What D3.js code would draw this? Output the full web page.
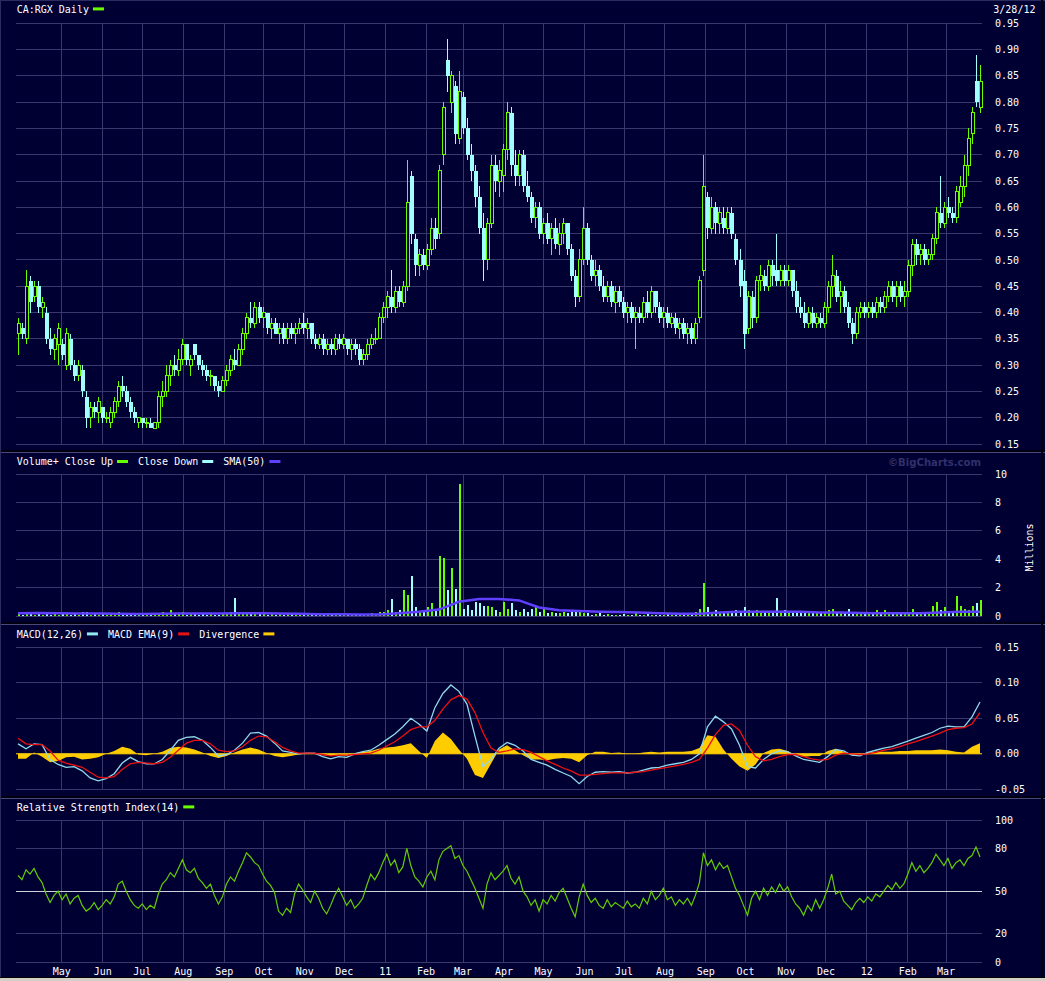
<!DOCTYPE html>
<html>
<head>
<meta charset="utf-8">
<script src="https://cdn.jsdelivr.net/npm/d3@7"></script>
<style>
  html, body { margin: 0; padding: 0; background: #000033; }
  svg { display: block; }
  text { font-family: "DejaVu Sans Mono", monospace; font-size: 10px; fill: #ffffff; }
</style>
</head>
<body>
<script>
// CA:RGX daily, one sample every two sessions, prices in cents
const openPx = [
  36,37,35,46,43,45,41,40,35,33, 34,34,30,35,30,28,29,24,20,22,
  21,22,20,19,21,23,26,25,23,21, 19,20,19,19,18,19,24,25,28,30,
  29,31,34,30,34,32,30,29,28,28, 26,25,27,29,31,30,33,36,39,38,
  41,39,40,37,38,36,37,35,37,36, 37,38,37,38,35,34,35,33,34,33,
  35,34,35,33,34,33,31,32,34,35, 35,39,41,43,41,44,42,45,66,54,
  49,51,49,52,56,55,70,88,80,83, 73,81,75,70,67,62,56,50,57,68,
  65,66,71,78,68,66,70,64,62,58, 60,55,57,54,56,53,55,57,52,47,
  43,50,56,50,47,48,45,43,45,42, 44,42,40,41,39,40,39,42,40,44,
  41,39,40,38,39,37,38,36,37,35, 39,48,62,56,60,57,58,56,59,54,
  50,46,37,43,39,46,47,45,49,48, 46,48,46,48,44,41,40,38,40,38,
  39,38,41,45,47,43,44,41,38,36, 40,41,40,41,40,42,41,43,45,43,
  45,43,44,49,53,51,52,50,51,54, 59,57,60,59,58,61,64,68,74,84,79
];
const highPx = [
  39,38,48,47,46,46,43,41,37,36, 38,35,37,36,31,31,30,25,23,23,
  24,22,21,22,24,27,28,26,24,22, 20,20,20,20,19,25,27,30,31,32,
  33,35,34,32,34,32,31,30,29,28, 27,28,30,32,33,34,37,40,42,42,
  42,41,40,39,39,38,38,38,38,38, 39,40,39,38,36,36,36,35,35,36,
  36,36,35,35,35,34,33,35,36,37, 40,42,44,48,45,45,46,69,67,55,
  52,52,53,58,58,68,80,92,86,84, 86,82,77,72,68,64,59,58,70,70,
  69,72,80,79,71,71,71,67,63,61, 61,58,59,57,58,57,58,57,53,48,
  52,60,57,51,50,49,47,46,46,45, 45,43,42,42,41,41,43,44,45,44,
  42,41,41,40,40,39,39,38,38,39, 47,70,63,62,61,60,60,60,60,55,
  52,48,44,44,47,49,48,50,50,55, 49,49,49,48,46,43,42,41,41,40,
  40,42,46,51,48,46,45,42,39,41, 42,42,42,42,43,43,44,46,46,46,
  46,46,50,54,54,53,53,52,55,60, 66,61,62,60,64,66,70,75,79,89,87
];
const lowPx = [
  32,35,34,40,42,40,39,34,32,31, 30,31,29,29,27,27,24,18,18,20,
  19,19,19,18,20,22,24,22,20,19, 18,18,18,18,18,18,22,24,26,28,
  28,30,30,28,31,29,28,27,26,25, 24,25,26,28,29,30,32,35,37,37,
  38,37,36,35,36,34,34,34,35,34, 36,36,35,34,33,33,32,32,32,32,
  33,33,32,31,32,30,30,31,33,34, 35,38,39,40,40,41,41,44,53,47,
  47,48,48,51,52,54,68,82,78,72, 72,74,69,65,60,55,46,48,56,63,
  62,63,69,66,64,64,63,61,57,56, 54,53,53,51,52,51,53,51,46,41,
  42,49,49,46,45,44,42,42,41,40, 41,39,38,38,33,38,38,39,39,40,
  38,37,37,37,36,35,35,34,34,34, 38,47,54,55,55,55,55,55,54,49,
  43,33,36,37,38,44,44,44,45,45, 45,45,45,43,40,39,37,37,37,37,
  37,37,40,43,42,40,40,37,34,35, 39,39,39,39,39,40,40,42,42,41,
  42,41,43,47,49,49,49,49,50,53, 56,56,58,57,57,60,62,66,72,79,78
];
const closePx = [
  38,36,45,42,45,41,42,35,33,35, 37,32,36,30,28,30,25,20,22,21,
  23,20,20,21,23,26,25,23,21,20, 20,19,19,18,19,24,25,28,30,29,
  31,34,31,31,32,30,29,28,28,26, 25,27,29,31,30,33,36,39,38,41,
  39,40,37,38,36,37,35,37,36,37, 38,37,38,35,34,35,33,34,33,35,
  34,35,33,34,33,31,32,34,35,35, 39,41,43,41,44,42,45,61,55,49,
  51,49,52,56,54,67,79,85,85,74, 82,75,70,67,62,56,50,57,68,65,
  67,71,78,68,66,70,64,62,58,60, 55,57,54,56,53,55,57,52,47,43,
  50,56,50,47,48,45,43,45,42,44, 42,40,41,39,40,39,42,40,44,41,
  39,40,38,39,37,38,36,37,35,38, 46,64,56,60,57,59,56,59,55,50,
  45,36,43,39,46,47,45,49,47,46, 48,46,48,44,41,40,38,40,38,39,
  38,41,45,47,43,44,41,38,36,40, 41,40,41,40,42,41,43,45,43,45,
  43,44,49,53,51,52,50,51,54,59, 57,60,59,58,63,64,68,73,78,80,84
];
// volume, millions
const volM = [
  0.15,0.1,0.3,0.2,0.1,0.15,0.1,0.2,0.1,0.15, 0.1,0.2,0.15,0.1,0.2,0.1,0.25,0.3,0.1,0.15,
  0.1,0.15,0.1,0.2,0.15,0.3,0.1,0.15,0.2,0.1, 0.1,0.05,0.1,0.1,0.05,0.2,0.25,0.15,0.4,0.2,
  0.2,0.3,0.1,0.15,0.2,0.1,0.15,0.1,0.2,0.1, 0.1,0.15,0.2,0.25,1.3,0.3,0.2,0.25,0.15,0.2,
  0.2,0.15,0.1,0.2,0.1,0.15,0.1,0.2,0.15,0.1, 0.1,0.15,0.1,0.2,0.1,0.05,0.1,0.15,0.1,0.1,
  0.05,0.1,0.1,0.05,0.1,0.15,0.1,0.1,0.2,0.1, 0.3,0.25,0.4,1.2,0.3,0.4,1.8,1.5,2.8,0.6,
  0.3,0.4,0.65,0.9,0.4,4.2,4.1,1.8,3.4,1.9, 9.3,0.5,0.8,0.4,1.0,0.9,0.7,0.7,0.6,0.4,
  0.3,1.0,0.5,0.9,0.4,0.3,0.5,0.3,0.5,0.6, 0.3,0.5,0.2,0.3,0.2,0.2,0.3,0.2,0.3,0.3,
  0.3,0.2,0.2,0.1,0.15,0.2,0.1,0.15,0.1,0.1, 0.1,0.15,0.1,0.1,0.2,0.1,0.1,0.15,0.1,0.1,
  0.1,0.1,0.15,0.1,0.1,0.1,0.2,0.1,0.15,0.3, 0.5,2.3,0.6,0.3,0.4,0.3,0.2,0.3,0.3,0.4,
  0.3,0.6,0.4,0.3,0.4,0.3,0.2,0.3,0.3,1.3, 0.3,0.4,0.3,0.2,0.3,0.3,0.2,0.2,0.3,0.2,
  0.2,0.3,0.4,0.5,0.3,0.2,0.3,0.5,0.3,0.2, 0.2,0.3,0.2,0.2,0.4,0.2,0.4,0.3,0.2,0.3,
  0.3,0.2,0.3,0.5,0.3,0.3,0.2,0.3,0.7,1.0, 0.4,0.6,0.3,0.3,1.4,0.7,0.5,0.4,0.7,0.95,1.1
];
// 50 day volume average, every 5th sample
const smaStep = 5;
const smaVol = [
  0.2,0.22,0.2,0.18,0.17,0.15,0.14,0.15,0.18,0.18,
  0.17,0.2,0.2,0.18,0.15,0.13,0.12,0.1,0.1,0.2,
  0.3,0.45,1.0,1.2,1.2,1.1,0.6,0.4,0.35,0.3,
  0.28,0.25,0.2,0.15,0.15,0.25,0.3,0.3,0.3,0.3,
  0.25,0.25,0.22,0.2,0.2,0.2,0.25,0.3,0.3
];
// MACD(12,26), EMA(9) and divergence, thousandths, every 2nd sample
const macdStep = 2;
const macd = [
  14,7,14,13,-8,-15,-19,-18,-24,-34, -38,-35,-28,-13,-5,-11,-14,-14,-8,5,
  19,23,24,19,9,-3,-1,5,15,29, 30,25,15,4,2,0,1,1,-4,-7,
  -4,-5,0,3,5,12,20,28,38,50, 42,32,65,85,97,88,70,25,-18,-8,
  8,16,12,4,-8,-12,-16,-22,-27,-32, -42,-32,-26,-25,-26,-25,-27,-26,-23,-20,
  -19,-16,-14,-12,-8,0,38,53,45,35, 12,-18,-20,-8,0,4,3,-3,-8,-10,
  -12,-4,6,4,-2,-3,2,5,8,10, 14,18,22,26,30,36,39,38,38,52, 73
];
const signal = [
  22,14,13,13,4,-9,-13,-16,-19,-26, -33,-34,-32,-22,-14,-12,-13,-14,-12,-5,
  5,15,19,19,14,5,3,4,10,19, 25,24,17,9,4,1,1,1,-1,-3,
  -2,-2,-1,0,1,5,11,17,25,34, 38,38,47,63,76,82,77,58,30,8,
  2,4,7,6,2,-4,-10,-15,-20,-24, -30,-30,-29,-28,-27,-27,-27,-26,-25,-23,
  -21,-19,-17,-15,-12,-8,8,27,40,42, 33,12,-4,-10,-8,-4,-1,-1,-4,-7,
  -9,-8,-2,1,0,-1,0,2,5,7, 10,14,17,21,25,29,34,36,37,42, 58
];
const diverg = [
  -7,-7,2,-4,-12,-10,-5,-4,-8,-7, -5,0,4,10,7,-1,-2,0,3,8,
  10,9,6,2,-3,-6,-3,2,6,9, 6,1,-3,-5,-3,-1,1,1,-2,-3,
  -2,-3,1,3,4,7,9,10,12,15, 4,-6,18,30,21,6,-7,-30,-34,-14,
  6,12,5,-2,-8,-8,-9,-7,-6,-7, -12,-2,3,3,1,2,0,0,2,3,
  2,3,3,3,4,8,26,24,6,-7, -18,-24,-15,1,6,7,4,-2,-4,-3,
  -3,4,7,3,-2,-2,2,3,3,3, 4,4,5,5,5,6,5,3,2,10, 15
];
// RSI(14)
const rsi = [
  61,58,65,62,66,60,56,48,42,47, 50,44,48,41,45,47,40,36,38,42,
  37,40,44,41,46,55,57,50,44,40, 38,41,37,40,38,48,55,58,63,60,
  66,72,65,63,66,59,56,52,55,47, 41,46,55,60,57,64,70,77,74,70,
  68,62,57,54,49,36,33,38,35,48, 55,51,46,42,50,45,38,34,40,47,
  52,46,40,44,38,41,45,54,62,58, 63,70,76,68,72,63,67,80,68,60,
  57,53,60,64,58,72,78,80,82,73, 75,68,64,58,52,45,38,55,63,58,
  61,64,68,59,55,60,50,46,40,44, 36,44,41,47,43,49,52,45,38,32,
  46,55,47,42,45,40,38,44,39,42, 40,38,43,39,41,38,45,41,50,44,
  47,52,44,46,40,44,41,45,40,47, 56,77,68,72,65,70,66,68,60,52,
  47,40,33,45,50,44,52,47,53,49, 55,50,53,46,41,38,33,40,36,44,
  38,44,52,62,48,50,43,40,37,42, 45,42,46,43,48,46,50,54,51,56,
  52,55,62,70,64,68,63,66,70,76, 72,68,73,66,70,72,68,73,75,81,74
];
const priceTicks = d3.range(15, 96, 5);
const volTicks = [0, 2, 4, 6, 8, 10];
const macdTicks = [-50, 0, 50, 100, 150];
const rsiTicks = [0, 20, 50, 80, 100];

const BG = "#000033", GRID = "#38386c";
const UP = "#66ff00", DOWN = "#a0ffff";
const W = 1045, H = 981;
const plotL = 16, plotR = 982;

const svg = d3.select("body").append("svg").attr("width", W).attr("height", H);
svg.append("rect").attr("width", W).attr("height", H).attr("fill", BG);

const N = closePx.length;
const x = d3.scaleLinear().domain([0, N - 1]).range([18, 980]);
const xT = d3.scaleTime().domain([new Date(2010, 2, 28), new Date(2012, 2, 29)]).range([17, 983]);
const months = xT.ticks(d3.timeMonth.every(1)).filter(d => xT(d) > plotL + 20);

const yP = d3.scaleLinear().domain([15, 95]).range([444, 23.3]);
const yV = d3.scaleLinear().domain([0, 10]).range([616, 474]);
const yM = d3.scaleLinear().domain([-50, 150]).range([789.3, 647.3]);
const yR = d3.scaleLinear().domain([0, 100]).range([962.3, 820]);

const panels = [
  { y: yP, ticks: priceTicks, fmt: d => (d / 100).toFixed(2) },
  { y: yV, ticks: volTicks, fmt: d => d },
  { y: yM, ticks: macdTicks, fmt: d => (d / 1000).toFixed(2) },
  { y: yR, ticks: rsiTicks, fmt: d => d }
];

// grids + right hand labels
panels.forEach(p => {
  const [yb, yt] = p.y.range();
  const g = svg.append("g").attr("shape-rendering", "crispEdges").attr("stroke", GRID);
  g.selectAll("line.h").data(p.ticks).join("line").attr("class", "h")
    .attr("x1", plotL).attr("x2", plotR)
    .attr("y1", d => p.y(d)).attr("y2", d => p.y(d));
  g.selectAll("line.v").data(months).join("line").attr("class", "v")
    .attr("x1", d => xT(d)).attr("x2", d => xT(d))
    .attr("y1", yt).attr("y2", yb);
  svg.append("g").selectAll("text").data(p.ticks).join("text")
    .attr("x", 995).attr("y", d => p.y(d) + 3.6).text(p.fmt);
});

// panel separators
function separator(y) {
  svg.append("rect").attr("x", 0).attr("y", y).attr("width", W).attr("height", 2).attr("fill", "#000010");
  svg.append("rect").attr("x", 0).attr("y", y + 2).attr("width", W).attr("height", 1).attr("fill", "#4a4a78");
}
separator(450);
separator(622);
separator(796);
svg.append("rect").attr("x", 0).attr("y", 0).attr("width", W).attr("height", 1).attr("fill", "#2c2c60");
svg.append("rect").attr("x", 0).attr("y", 0).attr("width", 1).attr("height", H).attr("fill", "#2c2c60");
svg.append("rect").attr("x", 1041).attr("y", 0).attr("width", 2).attr("height", 977).attr("fill", "#000010");
svg.append("rect").attr("x", 0).attr("y", 977).attr("width", W).attr("height", 1).attr("fill", "#000000");
svg.append("rect").attr("x", 0).attr("y", 978).attr("width", W).attr("height", 3).attr("fill", "#d4d0c8");

// candles
const candles = d3.range(N).map(i => ({
  i, o: openPx[i], h: highPx[i], l: lowPx[i], c: closePx[i], v: volM[i]
}));
const isUp = d => d.c >= d.o;
const cx = d => Math.round(x(d.i)) + 0.5;

const cg = svg.append("g").attr("shape-rendering", "crispEdges");
cg.selectAll("line").data(candles).join("line")
  .attr("x1", cx).attr("x2", cx)
  .attr("y1", d => yP(d.h)).attr("y2", d => yP(d.l))
  .attr("stroke", d => isUp(d) ? UP : DOWN);
cg.selectAll("rect").data(candles).join("rect")
  .attr("x", d => isUp(d) ? cx(d) - 1.5 : cx(d) - 2)
  .attr("width", d => isUp(d) ? 3 : 4)
  .attr("y", d => yP(Math.max(d.o, d.c)))
  .attr("height", d => Math.max(1, Math.abs(yP(d.o) - yP(d.c))))
  .attr("fill", d => isUp(d) ? BG : DOWN)
  .attr("stroke", d => isUp(d) ? UP : "none");

// volume
svg.append("g").attr("shape-rendering", "crispEdges")
  .selectAll("rect").data(candles).join("rect")
  .attr("x", d => cx(d) - 1).attr("width", 2)
  .attr("y", d => yV(d.v)).attr("height", d => yV(0) - yV(d.v))
  .attr("fill", d => isUp(d) ? UP : DOWN);
svg.append("path").datum(smaVol)
  .attr("d", d3.line().x((d, k) => x(k * smaStep)).y(d => yV(d)))
  .attr("fill", "none").attr("stroke", "#6040ff").attr("stroke-width", 2.5);

// MACD
svg.append("path").datum(diverg)
  .attr("d", d3.area().x((d, k) => x(k * macdStep)).y0(yM(0)).y1(d => yM(d)))
  .attr("fill", "#ffcc00");
svg.append("line").attr("x1", plotL).attr("x2", plotR)
  .attr("y1", yM(0)).attr("y2", yM(0)).attr("stroke", "#ffcc00");
svg.append("path").datum(macd)
  .attr("d", d3.line().x((d, k) => x(k * macdStep)).y(d => yM(d)))
  .attr("fill", "none").attr("stroke", "#90d8ea").attr("stroke-width", 1.3);
svg.append("path").datum(signal)
  .attr("d", d3.line().x((d, k) => x(k * macdStep)).y(d => yM(d)))
  .attr("fill", "none").attr("stroke", "#ee1111").attr("stroke-width", 1.3);

// RSI
svg.append("line").attr("x1", plotL).attr("x2", plotR)
  .attr("y1", yR(50)).attr("y2", yR(50)).attr("stroke", "#d0d0dc").attr("shape-rendering", "crispEdges");
svg.append("path").datum(rsi)
  .attr("d", d3.line().x((d, i) => x(i)).y(d => yR(d)))
  .attr("fill", "none").attr("stroke", "#66cc00").attr("stroke-width", 1.2);

// month labels
svg.append("g").selectAll("text").data(months).join("text")
  .attr("x", d => xT(d)).attr("y", 975).attr("text-anchor", "middle")
  .text(d => d.getMonth() === 0 ? d3.timeFormat("%y")(d) : d3.timeFormat("%b")(d));

// legends
function legend(y, items) {
  let px = 16.7;
  items.forEach(it => {
    const t = svg.append("text").attr("x", px).attr("y", y).text(it.text);
    px += t.node().getComputedTextLength() + 4;
    svg.append("rect").attr("x", px).attr("y", y - 5.3).attr("width", 11).attr("height", 3).attr("fill", it.color);
    px += 21;
  });
}
legend(12.7, [{ text: "CA:RGX Daily", color: UP }]);
legend(465.3, [
  { text: "Volume+ Close Up", color: UP },
  { text: "Close Down", color: DOWN },
  { text: "SMA(50)", color: "#6040ff" }
]);
legend(637.7, [
  { text: "MACD(12,26)", color: "#90e8f0" },
  { text: "MACD EMA(9)", color: "#ee1111" },
  { text: "Divergence", color: "#ffcc00" }
]);
legend(810.7, [{ text: "Relative Strength Index(14)", color: UP }]);

svg.append("text").attr("x", 993.3).attr("y", 12.7).text("3/28/12");
svg.append("text").attr("transform", "translate(1033,547.5) rotate(-90)")
  .attr("text-anchor", "middle").text("Millions");
svg.append("text").attr("x", 981).attr("y", 465.5).attr("text-anchor", "end")
  .attr("textLength", 93).attr("lengthAdjust", "spacingAndGlyphs")
  .style("font-family", "'DejaVu Sans', sans-serif").style("font-size", "11px")
  .style("font-weight", "bold").style("fill", "#30306a")
  .text("©BigCharts.com");
</script>
</body>
</html>
